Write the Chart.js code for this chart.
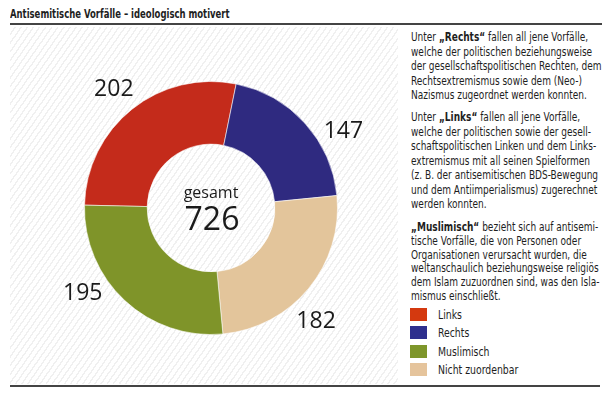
<!DOCTYPE html>
<html><head><meta charset="utf-8">
<script src="https://cdn.jsdelivr.net/npm/chart.js@4"></script>
<style>
html,body{margin:0;padding:0;background:#fff;width:608px;height:399px;overflow:hidden;}
body{position:relative;font-family:"DejaVu Sans Condensed","DejaVu Sans",sans-serif;color:#1e1e1e;}
#title{position:absolute;left:10px;top:7px;font-size:11.5px;font-weight:bold;white-space:nowrap;transform:scaleX(0.82);transform-origin:0 0;}
#topline{position:absolute;left:10px;top:23px;width:592px;height:1.5px;background:#444;}
#botline{position:absolute;left:10px;top:385px;width:590px;height:1.5px;background:#444;}
#hatch{position:absolute;left:10px;top:27px;width:388px;height:357px;
 background:repeating-linear-gradient(125deg,#fff 0px,#fff 3.6px,#f0f0f0 3.6px,#f0f0f0 5px);}
#cv{position:absolute;left:0;top:0;}
.p{position:absolute;left:411px;font-size:11.5px;line-height:14.5px;white-space:nowrap;transform:scaleX(0.87);transform-origin:0 0;}
#legend{position:absolute;left:410px;top:308px;font-size:11.5px;}
.li{position:relative;height:18.4px;}
.sw{position:absolute;left:0;top:0;width:17px;height:13px;}
.lt{position:absolute;left:28px;top:0px;line-height:14px;white-space:nowrap;transform:scaleX(0.9);transform-origin:0 0;}
</style></head>
<body>
<div id="hatch"></div>
<div id="title">Antisemitische Vorfälle – ideologisch motivert</div>
<div id="topline"></div>
<div id="botline"></div>
<div class="p" style="top:30px">Unter <b>„Rechts“</b> fallen all jene Vorfälle,<br>welche der politischen beziehungsweise<br>der gesellschaftspolitischen Rechten, dem<br>Rechtsextremismus sowie dem (Neo-)<br>Nazismus zugeordnet werden konnten.</div>
<div class="p" style="top:110px">Unter <b>„Links“</b> fallen all jene Vorfälle,<br>welche der politischen sowie der gesell-<br>schaftspolitischen Linken und dem Links-<br>extremismus mit all seinen Spielformen<br>(z. B. der antisemitischen BDS-Bewegung<br>und dem Antiimperialismus) zugerechnet<br>werden konnten.</div>
<div class="p" style="top:221px;line-height:13.8px"><b>„Muslimisch“</b> bezieht sich auf antisemi-<br>tische Vorfälle, die von Personen oder<br>Organisationen verursacht wurden, die<br>weltanschaulich beziehungsweise religiös<br>dem Islam zuzuordnen sind, was den Isla-<br>mismus einschließt.</div>
<div id="legend"></div>
<canvas id="cv" width="608" height="399"></canvas>
<script>
// ---- data ----
const categories = ["Links", "Rechts", "Nicht zuordenbar", "Muslimisch"];
const values = [202, 147, 182, 195];
const centerLabel = "gesamt";
const legendOrder = ["Links", "Rechts", "Muslimisch", "Nicht zuordenbar"];

// ---- style ----
const sliceColors = ["#C42B1B", "#2F2A80", "#E3C59B", "#7F9429"];
const legendColors = {"Links":"#D4390F","Rechts":"#2E2F8E","Muslimisch":"#7E962B","Nicht zuordenbar":"#E5C49C"};
const labelAngleShift = [-0.6, 11.6, 7.4, 13.6]; // degrees
const labelRadiusFactor = 1.215;

// legend (HTML)
const lg = document.getElementById('legend');
legendOrder.forEach(name => {
  const d = document.createElement('div'); d.className = 'li';
  d.innerHTML = '<div class="sw" style="background:' + legendColors[name] + '"></div><div class="lt">' + name + '</div>';
  lg.appendChild(d);
});

const total = values.reduce((a, b) => a + b, 0);

const labelPlugin = {
  id: 'donutLabels',
  afterDatasetsDraw(chart) {
    const ctx = chart.ctx;
    const meta = chart.getDatasetMeta(0);
    ctx.save();
    ctx.fillStyle = '#1a1a1a';
    ctx.textAlign = 'center';
    ctx.textBaseline = 'middle';
    ctx.font = '23px "Open Sans", "Noto Sans", sans-serif';
    meta.data.forEach((arc, i) => {
      const p = arc.getProps(['x', 'y', 'startAngle', 'endAngle', 'outerRadius'], true);
      const mid = (p.startAngle + p.endAngle) / 2 + labelAngleShift[i] * Math.PI / 180;
      const r = p.outerRadius * labelRadiusFactor;
      ctx.fillText(String(chart.data.datasets[0].data[i]), p.x + r * Math.cos(mid), p.y + r * Math.sin(mid) + 1);
    });
    const a0 = meta.data[0];
    ctx.textBaseline = 'alphabetic';
    ctx.font = '16px "Open Sans", "Noto Sans", sans-serif';
    ctx.fillText(centerLabel, a0.x, a0.y - 10);
    ctx.font = '32px "Open Sans", "Noto Sans", sans-serif';
    ctx.fillText(String(total), a0.x + 1, a0.y + 22);
    ctx.restore();
  }
};

new Chart(document.getElementById('cv'), {
  type: 'doughnut',
  data: {
    labels: categories,
    datasets: [{
      data: values,
      backgroundColor: sliceColors,
      borderColor: 'rgba(255,255,255,0.55)',
      borderWidth: 1
    }]
  },
  options: {
    responsive: false,
    animation: false,
    rotation: 271.3,
    cutout: '50.5%',
    layout: { padding: { left: 84, right: 270, top: 81, bottom: 64 } },
    plugins: { legend: { display: false }, tooltip: { enabled: false } }
  },
  plugins: [labelPlugin]
});
</script>
</body></html>
